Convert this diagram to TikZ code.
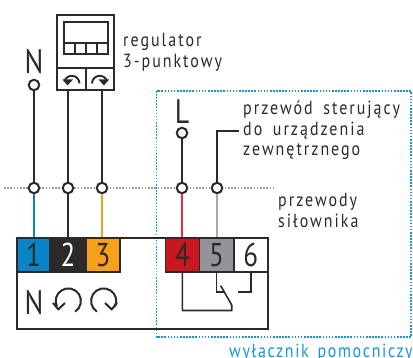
\documentclass[tikz,border=0pt]{standalone}
\usepackage{fontspec}
\setmainfont{PT Sans}
\newfontfamily\lblfont[LetterSpace=10.5,WordSpace=1.7,FakeStretch=0.84]{PT Sans}
\newfontfamily\bluefont[LetterSpace=8.6,WordSpace=1.5,FakeStretch=0.84]{PT Sans}
\newfontfamily\symfont[FakeStretch=0.82]{PT Sans}
\definecolor{ink}{HTML}{2B2A29}
\definecolor{ablue}{HTML}{0A84C8}
\definecolor{dotblue}{HTML}{1496DC}
\definecolor{aorange}{HTML}{F7A11A}
\definecolor{ared}{HTML}{C8171E}
\definecolor{wred}{HTML}{E5303A}
\definecolor{agrey}{HTML}{929497}
\definecolor{wgrey}{HTML}{A8A9AB}
\definecolor{dotgrey}{HTML}{9A9B9D}
\tikzset{
  pin/.style={circle,draw=ink,line width=2pt,fill=white,inner sep=0pt,minimum size=10.5pt},
  wire/.style={ink,line width=2pt},
  thin wire/.style={ink,line width=1.6pt},
  frame/.style={draw=ink,line width=2pt},
  term/.style={draw=ink,line width=1.6pt,inner sep=0pt,minimum height=34pt,font=\symfont\fontsize{33}{33}\selectfont,text=ink},
  lbl/.style={anchor=base west,inner sep=0pt,text=ink,font=\lblfont\fontsize{19}{19}\selectfont},
  sym/.style={inner sep=0pt,text=ink,font=\symfont\fontsize{34}{34}\selectfont},
  rot/.style={ink,line width=2pt},
}
\begin{document}
\begin{tikzpicture}[x=1pt,y=-1pt]
\useasboundingbox (0,0) rectangle (413,358);
\clip (0,0) rectangle (413,358);
% dotted frames
\draw[dotblue,line width=1.6pt,dash pattern=on 1.6pt off 1.5pt] (156.5,91) rectangle (411,337.3);
\draw[dotgrey,line width=1.5pt,dash pattern=on 1.5pt off 1.7pt] (4,188) -- (275,188);
% regulator
\node[frame,minimum width=57pt,minimum height=75pt,inner sep=0pt] (reg) at (85.5,52.5) {};
\draw[wire] (57,68) -- (114,68) (86,68) -- (86,90);
\draw[line width=2pt,ink] (64,22) rectangle (108,54);
\draw[line width=2pt,ink] (64,43) -- (108,43) (75,43) -- (75,54) (86,43) -- (86,54) (97,43) -- (97,54);
% regulator arrows
\draw[ink,line width=1.9pt] (79.5,83.5) arc[start angle=0,end angle=-165,radius=7.7];
\fill[ink] (62.5,79.5) -- (73,79.5) -- (67.5,85.5) -- cycle;
\draw[ink,line width=1.9pt] (92,83.5) arc[start angle=180,end angle=345,radius=7.7];
\fill[ink] (109,79.5) -- (98.5,79.5) -- (104,85.5) -- cycle;
% main box
\node[frame,minimum width=251pt,minimum height=91.3pt,inner sep=0pt] (box) at (142.5,283.4) {};
% terminals
\node[term,fill=ablue,minimum width=33pt] (t1) at (33.5,255) {1};
\node[term,fill=ink,text=white,minimum width=36pt] (t2) at (68,255) {2};
\node[term,fill=aorange,minimum width=34pt] (t3) at (103,255) {3};
\node[term,fill=ared,minimum width=34.2pt] (t4) at (182.4,255) {4};
\node[term,fill=agrey,minimum width=34.2pt] (t5) at (216.6,255) {5};
\node[term,fill=white,minimum width=34.2pt] (t6) at (250.8,255) {6};
% pins
\node[pin] (pn) at (34,85) {};
\node[pin] (pl) at (182,133) {};
\node[pin] (a1) at (34,188) {};
\node[pin] (a2) at (68,188) {};
\node[pin] (a3) at (102,188) {};
\node[pin] (a4) at (182,188) {};
\node[pin] (a5) at (217,188) {};
% wires
\draw[wire] (pn) -- (a1);
\draw[wire] (a2 |- reg.south) -- (a2);
\draw[wire] (a3 |- reg.south) -- (a3);
\draw[wire] (pl) -- (a4);
\coordinate (ctl) at (239,131);
\draw[wire] (ctl) -- (a5 |- ctl) -- (a5);
\draw[ablue,line width=2pt] (a1) -- (a1 |- t1.north);
\draw[wire] (a2) -- (a2 |- t2.north);
\draw[aorange,line width=2pt] (a3) -- (a3 |- t3.north);
\draw[wred,line width=2pt] (a4) -- (a4 |- t4.north);
\draw[wgrey,line width=2pt] (a5) -- (a5 |- t5.north);
% contact
\coordinate (c1) at (231.7,310.5);
\coordinate (c2) at (220.7,285.7);
\coordinate (c3) at (225,292.3);
\coordinate (c4) at (237.7,292.3);
\draw[thin wire,line join=round] (t4.south) -- (t4.south |- c1) -- (c1) -- (231.7,305) -- (c2);
\draw[thin wire] (t5.south) -- (t5.south |- c3) -- (c3);
\draw[thin wire] (t6.south) -- (t6.south |- c4) -- (c4);
% symbols
\node[sym] (symn) at (34,302.5) {N};
\draw[rot] (75,311.7) arc[start angle=58,end angle=-205,radius=12.6];
\draw[rot,line join=miter] (53,303) -- (58.3,309.3) -- (65,303);
\draw[rot] (97,311.7) arc[start angle=122,end angle=385,radius=12.6];
\draw[rot,line join=miter] (117,303) -- (111.7,309.3) -- (105,303);
% labels
\node[sym] (ln) at (34,62) {N};
\node[sym] (ll) at (182,111.5) {L};
\node[lbl] (r1) at (123,47) {regulator};
\node[lbl] (r2) at (123,67.7) {3-punktowy};
\node[lbl] (c1t) at (243,115) {przewód sterujący};
\node[lbl] (c2t) at (243,135.7) {do urządzenia};
\node[lbl] (c3t) at (243,156) {zewnętrznego};
\node[lbl] (s1) at (278,207) {przewody};
\node[lbl] (s2) at (278,227.7) {siłownika};
\node[lbl,text=dotblue,font=\bluefont\fontsize{19}{19}\selectfont] (w) at (229,357.5) {wyłącznik pomocniczy};
\end{tikzpicture}
\end{document}
